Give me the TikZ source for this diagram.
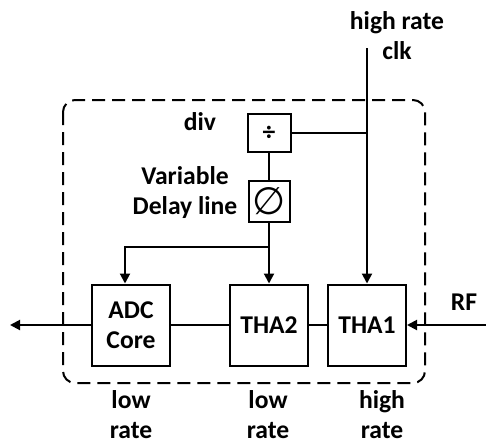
\documentclass[tikz,border=0pt]{standalone}
\usepackage{fontspec}
\setmainfont{Carlito}
\newfontfamily\symfont{DejaVu Sans}
\usetikzlibrary{arrows.meta,positioning}

\begin{document}
\begin{tikzpicture}[x=0.5pt,y=-0.5pt,
    font=\fontsize{12.8}{15}\selectfont\bfseries,
    block/.style={draw,line width=1pt,minimum width=39pt,
      minimum height=40.5pt,align=center,inner sep=0pt},
    smallbox/.style={draw,line width=1pt,inner sep=0pt},
    wire/.style={line width=1pt},
    arr/.style={wire,-{Triangle[length=5pt,width=5pt]}},
    lbl/.style={align=center,inner sep=1pt}]
  \useasboundingbox (0,0) rectangle (486,445);
  % chip border
  \draw[line width=1pt,dash pattern=on 6.5pt off 3.5pt,
    rounded corners=6pt] (63,100) rectangle (425,383);
  % blocks
  \node[block] (adc) at (131,325) {ADC\\Core};
  \node[block] (tha2) at (269,325) {THA2};
  \node[block] (tha1) at (367,325) {THA1};
  \node[smallbox,minimum width=21.5pt,minimum height=19pt]
    (div) at (269,133) {÷};
  \node[smallbox,minimum size=20.5pt] (dly) at (269,201)
    {\symfont\mdseries\fontsize{19}{19}\selectfont ∅};
  % labels
  \node[lbl] (divlbl) at (200,122) {div};
  \node[lbl] (dlylbl) at (185,193) {Variable\\Delay line};
  \node[lbl] (clklbl) at (397,36) {high rate\\clk};
  \node[lbl] (rflbl) at (464,302) {RF};
  \node[lbl] (adcrate) at (131,415) {low\\rate};
  \node[lbl] (tha2rate) at (268,415) {low\\rate};
  \node[lbl] (tha1rate) at (382,415) {high\\rate};
  % connections
  \coordinate (clk) at (367,48);
  \coordinate (split) at (269,247);
  \coordinate (out) at (10,325);
  \coordinate (rf) at (486,325);
  \draw[arr] (clk) -- (tha1);
  \draw[wire] (div.east) -- (div.east -| clk);
  \draw[wire] (div) -- (dly);
  \draw[wire] (dly.south) -- (split);
  \draw[arr] (split) -- (tha2);
  \draw[arr] (split) -| ([xshift=-3pt]adc.north);
  \draw[wire] (adc) -- (tha2);
  \draw[wire] (tha2) -- (tha1);
  \draw[arr] (adc) -- (out);
  \draw[arr] (rf) -- (tha1);
\end{tikzpicture}
\end{document}
